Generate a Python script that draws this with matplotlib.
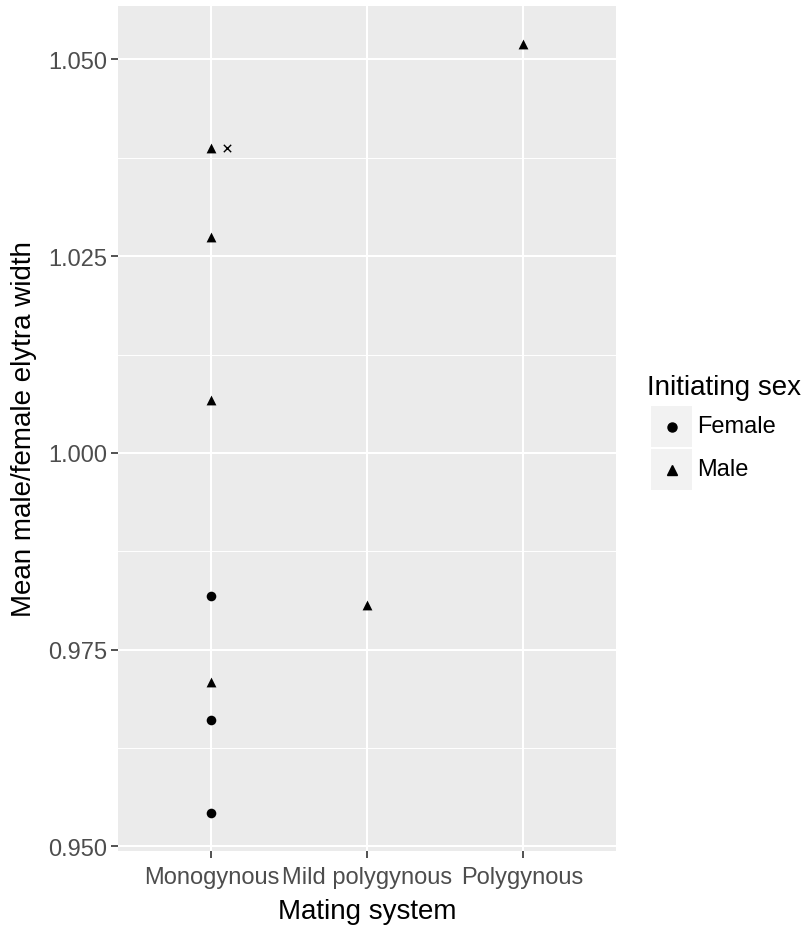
import numpy as np
import matplotlib
matplotlib.use("Agg")
from matplotlib import pyplot as plt
from matplotlib.patches import Rectangle

plt.rcParams['font.family'] = ['Liberation Sans', 'DejaVu Sans']

categories = ['Monogynous', 'Mild polygynous', 'Polygynous']

female_system = ['Monogynous', 'Monogynous', 'Monogynous']
female_ratio = [0.9818, 0.9661, 0.9543]

male_system = ['Monogynous', 'Monogynous', 'Monogynous', 'Monogynous',
               'Mild polygynous', 'Polygynous']
male_ratio = [1.0388, 1.0274, 1.0067, 0.9709, 0.9807, 1.0519]

# the lone cross next to the top monogynous point
cross_system = ['Monogynous']
cross_ratio = [1.0388]

y_ticks = [0.950, 0.975, 1.000, 1.025, 1.050]

bg = '#EBEBEB'
txt_gray = '#4D4D4D'

fig = plt.figure(figsize=(8.1, 9.28), dpi=100)
W, H = 810, 928
ax = fig.add_axes([118 / W, 1 - 852 / H, (616 - 118) / W, (852 - 7) / H])
ax.set_facecolor(bg)

pos = {c: i + 1 for i, c in enumerate(categories)}

all_vals = female_ratio + male_ratio
lo, hi = min(all_vals), max(all_vals)
pad = (hi - lo) * 0.05
ax.set_ylim(lo - pad, hi + pad)
ax.set_xlim(0.4, len(categories) + 0.6)

# grid
for i in range(len(y_ticks) - 1):
    ax.axhline((y_ticks[i] + y_ticks[i + 1]) / 2, color='white', lw=0.7, zorder=0)
for t in y_ticks:
    ax.axhline(t, color='white', lw=1.5, zorder=0)
for c in categories:
    ax.axvline(pos[c], color='white', lw=1.5, zorder=0)

ax.scatter([pos[s] for s in female_system], female_ratio, marker='o', s=48,
           color='black', linewidths=0, zorder=3)
ax.scatter([pos[s] for s in male_system], male_ratio, marker='^', s=50,
           color='black', linewidths=0, zorder=3)
ax.scatter([pos[s] + 0.1 for s in cross_system], cross_ratio, marker='x', s=28,
           color='black', linewidths=1.0, zorder=3)

for sp in ax.spines.values():
    sp.set_visible(False)

ax.set_yticks(y_ticks)
ax.set_yticklabels(['%.3f' % t for t in y_ticks])
ax.set_xticks([pos[c] for c in categories])
ax.set_xticklabels(categories)
ax.tick_params(axis='both', colors='#333333', labelcolor=txt_gray, labelsize=17,
               length=5, width=1.2, pad=3)
ax.tick_params(axis='x', pad=6)

ax.set_xlabel('Mating system', fontsize=20, color='black', labelpad=7)
ax.set_ylabel('Mean male/female elytra width', fontsize=20, color='black', labelpad=8)

# legend
fig.text(647 / W, 1 - 395 / H, 'Initiating sex', fontsize=20, ha='left', va='baseline')
labels = ['Female', 'Male']
markers = ['o', '^']
for i, (lab, mk) in enumerate(zip(labels, markers)):
    y0 = 407 + i * 43
    fig.patches.append(Rectangle((651 / W, 1 - (y0 + 41) / H), 41 / W, 41 / H,
                                 transform=fig.transFigure, facecolor='#F2F2F2',
                                 edgecolor='none'))
    fig.lines.append(plt.Line2D([671.5 / W], [1 - (y0 + 20.5) / H], marker=mk,
                                markersize=6.5, color='black', linestyle='none',
                                transform=fig.transFigure))
    fig.text(697 / W, 1 - (y0 + 20.5) / H, lab, fontsize=17, ha='left', va='center')

fig.savefig('out.png', dpi=100)
